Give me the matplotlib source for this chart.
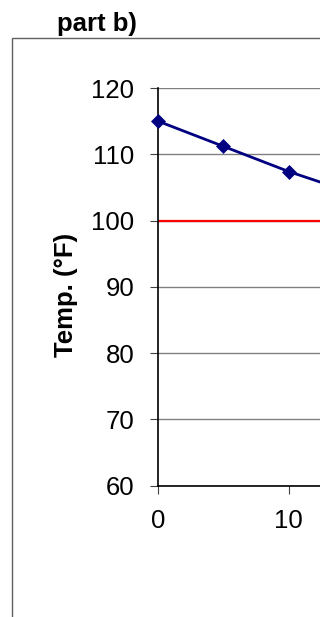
import matplotlib as mpl
import matplotlib.pyplot as plt
from matplotlib.patches import Rectangle

mpl.use("Agg")

# data
time_min = [0, 5, 10, 15]
temp_f = [115.0, 111.2, 107.4, 104.1]
limit_f = 100
y_ticks = [60, 70, 80, 90, 100, 110, 120]
x_ticks = [0, 10]

W, H = 320, 617
plt.rcParams["font.family"] = ["Liberation Sans", "DejaVu Sans"]
fig = plt.figure(figsize=(W / 100, H / 100), dpi=100)

# chart area border (cut off on right and bottom)
fig.patches.append(Rectangle((11.7 / W, -0.1), 1.2, 1.1 - 37.7 / H,
                             transform=fig.transFigure, fill=False,
                             edgecolor="#606060", linewidth=1.0))

left = 158 / W
px_per_unit = 13.07
x_max = (W - 158) / px_per_unit  # the plot runs off the right edge
ax = fig.add_axes([left, (H - 485.7) / H, 1 - left, (485.7 - 88) / H])

ax.plot(time_min, temp_f, color="#000080", linewidth=2.0, marker="D",
        markersize=7.2, markeredgewidth=0.5, zorder=3, clip_on=False)
ax.axhline(limit_f, color="#ff0000", linewidth=1.6, zorder=2)

ax.set_xlim(0, x_max)
ax.set_ylim(60, 120)
ax.set_xticks(x_ticks)
ax.set_yticks(y_ticks)
ax.grid(axis="y", color="#808080", linewidth=1.0)
ax.set_axisbelow(True)
for s in ("top", "right"):
    ax.spines[s].set_visible(False)
for s in ("left", "bottom"):
    ax.spines[s].set_linewidth(1.2)
ax.tick_params(direction="out", length=6, width=0.8, color="#404040",
               labelsize=18.5, pad=11)

fig.text(66 / W, 1 - 295 / H, "Temp. (°F)", rotation=90, ha="center",
         va="center", fontsize=18.5, fontweight="bold")
fig.text(57 / W, 1 - 31.5 / H, "part b)", ha="left", va="baseline",
         fontsize=18.5, fontweight="bold")

fig.savefig("out.png", dpi=100)
